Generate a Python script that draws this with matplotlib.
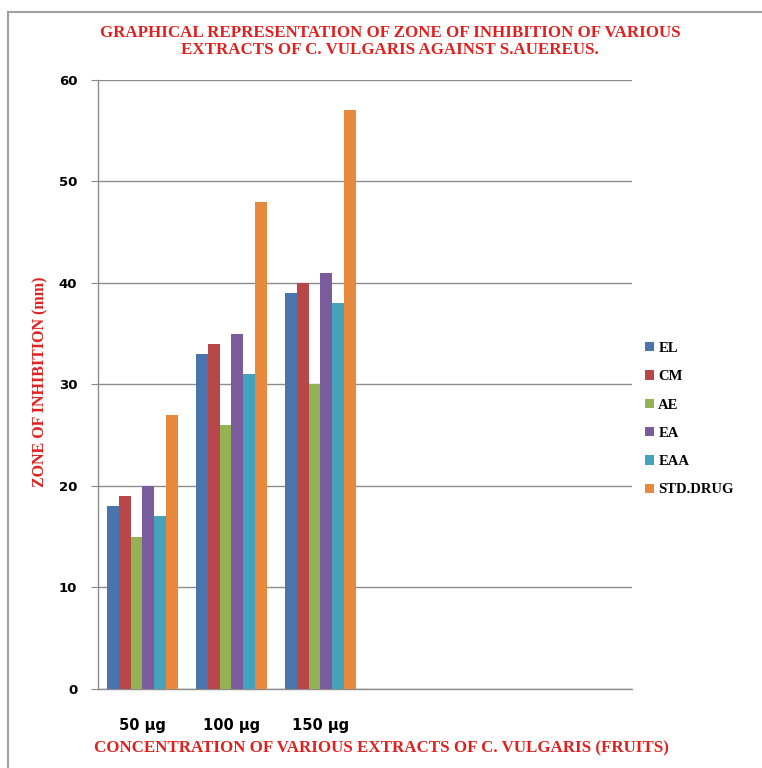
import numpy as np
import matplotlib
matplotlib.use("Agg")
import matplotlib.pyplot as plt
from matplotlib.lines import Line2D

# =========================
# DATA
# =========================
categories = ["50 µg", "100 µg", "150 µg", "", "", ""]
series_names = ["EL", "CM", "AE", "EA", "EAA", "STD.DRUG"]
el = [18, 33, 39]
cm = [19, 34, 40]
ae = [15, 26, 30]
ea = [20, 35, 41]
eaa = [17, 31, 38]
std_drug = [27, 48, 57]
series_values = [el, cm, ae, ea, eaa, std_drug]
colors = ["#4a74ad", "#b8474a", "#92b254", "#7a5c9c", "#45a2bd", "#e8883c"]
y_ticks = [0, 10, 20, 30, 40, 50, 60]

RED = "#e0201e"

# =========================
# FIGURE
# =========================
fig = plt.figure(figsize=(7.62, 7.68), dpi=100)
ax = fig.add_axes([0.1286, 0.1029, 0.7008, 0.7930])

n_series = len(series_names)
group_w = 0.79
bar_w = group_w / n_series
x = np.arange(len(categories))

for i, (name, vals) in enumerate(zip(series_names, series_values)):
    xs = x[:len(vals)] - group_w / 2 + bar_w * (i + 0.5)
    ax.bar(xs, vals, width=bar_w, color=colors[i], label=name, zorder=3)

ax.set_xlim(-0.5, len(categories) - 0.5)
ax.set_ylim(0, 60)
ax.set_yticks(y_ticks)
ax.set_yticklabels([str(t) for t in y_ticks], fontsize=9.5, fontweight="bold",
                   family="DejaVu Sans")
ax.set_xticks(x)
ax.set_xticklabels(categories, fontsize=10.5, fontweight="bold", family="DejaVu Sans")
ax.tick_params(axis="x", length=0, pad=21)
ax.tick_params(axis="y", length=5, color="#888888", pad=10)

ax.grid(axis="y", color="#8c8c8c", linewidth=1.0, zorder=0)
for s in ["top", "right"]:
    ax.spines[s].set_visible(False)
for s in ["left", "bottom"]:
    ax.spines[s].set_color("#8c8c8c")
    ax.spines[s].set_linewidth(1.0)

ax.set_ylabel("ZONE OF INHIBITION (mm)", color=RED, fontsize=11.5, fontweight="bold",
              family="Liberation Serif")
ax.yaxis.set_label_coords(-0.092, 0.505)
ax.set_xlabel("CONCENTRATION OF VARIOUS EXTRACTS OF C. VULGARIS (FRUITS)", color=RED,
              fontsize=12.2, fontweight="bold", family="Liberation Serif")
ax.xaxis.set_label_coords(0.53, -0.085)

fig.text(0.512, 0.946, "GRAPHICAL REPRESENTATION OF ZONE OF INHIBITION OF VARIOUS\n"
         "EXTRACTS OF C. VULGARIS AGAINST S.AUEREUS.",
         ha="center", va="center", color=RED, fontsize=12.2, fontweight="bold",
         family="Liberation Serif", linespacing=1.05)

leg = ax.legend(loc="center left", bbox_to_anchor=(1.0, 0.443), frameon=False,
                handlelength=0.6, handleheight=0.6, handletextpad=0.3,
                labelspacing=1.05, prop={"family": "Liberation Serif",
                                         "weight": "bold", "size": 10.5})

# outer chart border
fig.add_artist(Line2D([8 / 762, 8 / 762], [0, 1 - 12 / 768], color="#a0a0a0", lw=1.5))
fig.add_artist(Line2D([8 / 762, 1], [1 - 12 / 768, 1 - 12 / 768], color="#a0a0a0", lw=1.5))

fig.savefig("out.png", dpi=100)
